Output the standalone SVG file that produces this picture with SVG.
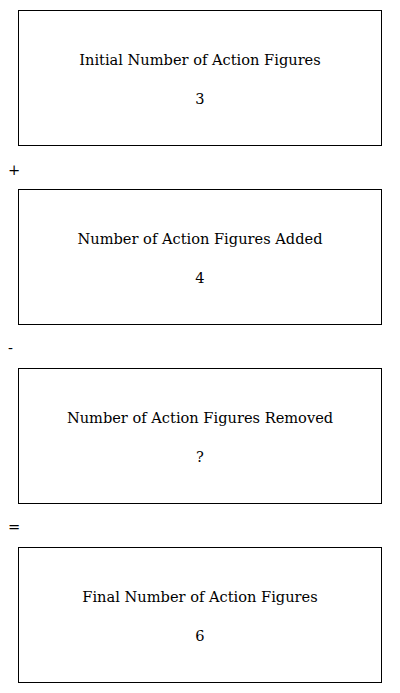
<svg xmlns="http://www.w3.org/2000/svg" width="400" height="693" viewBox="0 0 400 693">
<style>
.box{fill:#fff;stroke:#000;stroke-width:1}
.t{font-family:"DejaVu Serif","Liberation Serif",serif;font-size:14.6px;fill:#000;text-anchor:middle}
.op{font-family:"DejaVu Serif","Liberation Serif",serif;font-size:14.6px;fill:#000}
</style>
<rect width="400" height="693" fill="#fff"/>
<g id="node1"><rect class="box" x="18.5" y="10.5" width="363" height="135"/><text class="t" x="200" y="65">Initial Number of Action Figures</text><text class="t" x="200" y="104">3</text></g>
<g id="connectors">
<text class="op" x="8" y="175">+</text>
<text class="op" x="8" y="353">-</text>
<text class="op" x="8" y="532">=</text>
</g>
<g id="node2"><rect class="box" x="18.5" y="189.5" width="363" height="135"/><text class="t" x="200" y="244">Number of Action Figures Added</text><text class="t" x="200" y="283">4</text></g>
<g id="node3"><rect class="box" x="18.5" y="368.5" width="363" height="135"/><text class="t" x="200" y="423">Number of Action Figures Removed</text><text class="t" x="200" y="462">?</text></g>
<g id="node4"><rect class="box" x="18.5" y="547.5" width="363" height="135"/><text class="t" x="200" y="602">Final Number of Action Figures</text><text class="t" x="200" y="641">6</text></g>
</svg>
